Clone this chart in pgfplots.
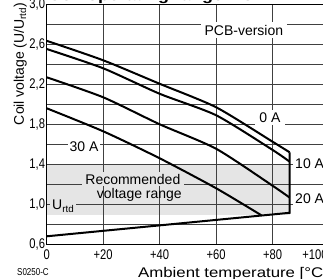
\documentclass[border=0pt]{standalone}
\usepackage{fontspec}
\setmainfont{Liberation Sans}
\newfontfamily\narrowfont[FakeStretch=0.8]{Liberation Sans}
\newfontfamily\widefont[FakeStretch=1.2]{Liberation Sans}
\usepackage{pgfplots}
\pgfplotsset{compat=1.18}
\begin{document}
\begin{tikzpicture}
\begin{axis}[
  set layers,
  at={(46.7pt,33.7pt)}, anchor=south west,
  x=2.825pt, y=100pt,
  xmin=0, xmax=100, ymin=0.6, ymax=3.0,
  axis line style={black, line width=0.8pt},
  xtick={0,20,40,60,80}, xticklabels={0,+20,+40,+60,+80},
  ytick={0.6,1.0,1.4,1.8,2.2,2.6,3.0},
  minor ytick={0.8,1.2,1.6,2.0,2.4,2.8},
  grid=both,
  major grid style={black!75, line width=0.7pt},
  minor grid style={black!75, line width=0.7pt},
  major tick length=0pt, minor tick length=0pt,
  tick label style={font=\narrowfont\fontsize{14}{16}\selectfont},
  /pgf/number format/assume math mode=true,
  y tick label style={/pgf/number format/.cd, fixed, fixed zerofill, precision=1, use comma, /tikz/.cd, inner xsep=1.5pt},
  x tick label style={inner ysep=0pt, yshift=-5.7pt},
]
\addplot[fill=black!10, draw=none, on layer=axis background] coordinates {(0,0.89) (86,0.89) (86,1.4) (0,1.4)};
% 0 A
\addplot[black, line width=2pt, smooth, tension=0.4] coordinates {(0,2.635)(20,2.44)(40,2.205)(60,1.97)(80,1.625)(86,1.52)};
% 10 A
\addplot[black, line width=2pt, smooth, tension=0.4] coordinates {(0,2.553)(20,2.36)(40,2.105)(60,1.89)(80,1.543)(86,1.426)};
% 20 A
\addplot[black, line width=2pt, smooth, tension=0.4] coordinates {(0,2.27)(20,2.07)(40,1.80)(60,1.555)(80,1.185)(86,1.067)};
% 30 A
\addplot[black, line width=2pt, smooth, tension=0.4] coordinates {(0,1.96)(20,1.73)(40,1.46)(60,1.16)(76,0.89)};
% operating range boundary
\addplot[black, line width=2pt, line join=miter] coordinates {(86,1.52)(86,0.915)(0,0.68)};

\node[fill=white, inner xsep=3.5pt, inner ysep=2.5pt, font=\fontsize{14}{16}\selectfont] at (axis cs:69.8,2.743) {PCB-version};
\node[fill=white, inner xsep=4.5pt, inner ysep=2.5pt, font=\fontsize{14}{16}\selectfont] at (axis cs:79.0,1.866) {0 A};
\node[fill=white, inner xsep=2pt, inner ysep=2.5pt, font=\fontsize{14}{16}\selectfont] at (axis cs:13.2,1.576) {30 A};
\node[fill=white, anchor=west, inner xsep=2pt, inner ysep=2.5pt, font=\fontsize{14}{16}\selectfont] at (axis cs:87.2,1.408) {10 A};
\node[fill=white, anchor=west, inner xsep=2pt, inner ysep=2.5pt, font=\fontsize{14}{16}\selectfont] at (axis cs:87.2,1.053) {20 A};
\node[fill=black!10, inner xsep=3.5pt, inner ysep=2pt, font=\fontsize{14}{16}\selectfont] at (axis cs:30.5,1.253) {Recommended};
\node[inner sep=1pt, font=\fontsize{14}{16}\selectfont] at (axis cs:32.8,1.09) {voltage range};
\node[fill=black!10, anchor=base west, inner xsep=2pt, inner ysep=2pt, font=\fontsize{14}{16}\selectfont] at (axis cs:1.17,0.943) {U\textsubscript{rtd}};
\end{axis}
\node[rotate=90, anchor=base west, inner sep=0pt, font=\fontsize{14}{16}\selectfont] at (24pt,152.7pt) {Coil voltage (U/U\textsubscript{rtd})};
\node[anchor=base west, inner sep=0pt, font=\widefont\fontsize{14}{16}\selectfont] at (138pt,0.7pt) {Ambient temperature [°C]};
\node[anchor=north, inner sep=0pt, font=\narrowfont\fontsize{14}{16}\selectfont] at (315pt,28pt) {+100};
\node[anchor=base west, inner sep=0pt, font=\narrowfont\fontsize{10}{11}\selectfont] at (17pt,2.3pt) {S0250-C};
\node[anchor=base west, inner sep=0pt, font=\widefont\bfseries\fontsize{15}{18}\selectfont] at (48pt,277.2pt) {Coil operating range DC};
\pgfresetboundingbox
\useasboundingbox (0,0) rectangle (323pt,278pt);
\end{tikzpicture}
\end{document}
